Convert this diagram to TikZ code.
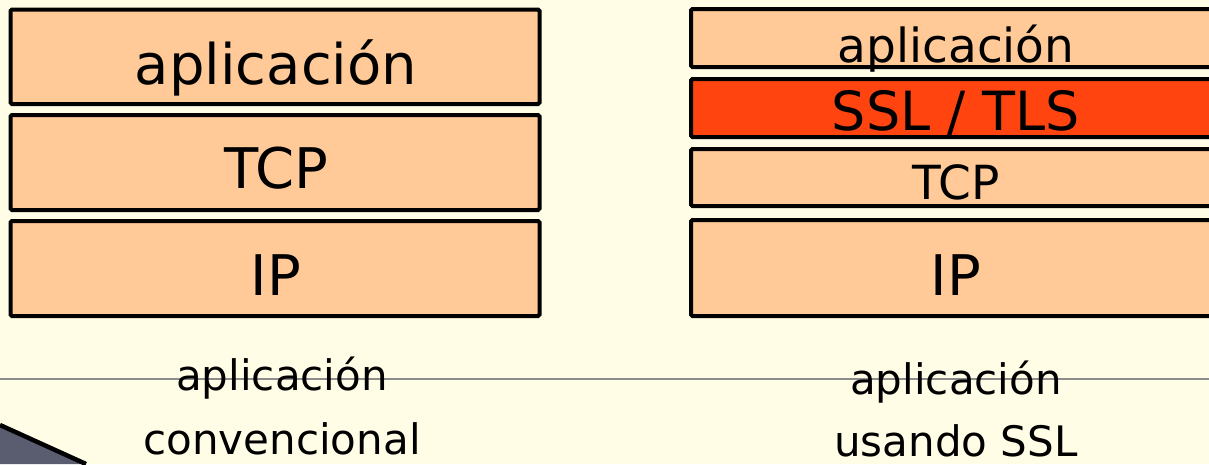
\documentclass[tikz,border=0pt]{standalone}
\usepackage{fontspec}
\setmainfont{DejaVu Sans}
\definecolor{paper}{HTML}{FFFDE6}
\definecolor{peach}{HTML}{FFCA98}
\definecolor{sslred}{HTML}{FF4410}
\definecolor{rule}{HTML}{8C8C8C}
\definecolor{slate}{HTML}{5A5D70}
\tikzset{
  layer/.style={draw=black, line width=4pt, fill=peach, rounded corners=1.5pt,
                inner sep=0pt, rectangle},
  secure/.style={layer, fill=sslred},
  big/.style={anchor=base, inner sep=0pt, font=\fontsize{56}{60}\selectfont},
  mid/.style={anchor=base, inner sep=0pt, font=\fontsize{47}{52}\selectfont},
  caption/.style={anchor=base, inner sep=0pt, font=\fontsize{42}{46}\selectfont},
}
\begin{document}
\begin{tikzpicture}[x=1pt,y=-1pt]
  \fill[paper] (0,0) rectangle (1209,464);
  \useasboundingbox (0,0) rectangle (1209,464);
  \clip (0,0) rectangle (1209,464);

  % divider running behind the captions
  \draw[rule, line width=1.3pt] (0,379) -- (1209,379);

  % corner ornament
  \fill[slate] (0,425) -- (86,464) -- (0,464) -- cycle;
  \draw[line width=4.5pt] (0,425) -- (86,464);

  % conventional stack
  \node[layer, minimum width=529pt, minimum height=94.5pt] (lapp) at (275,56.75) {};
  \node[layer, minimum width=529pt, minimum height=95pt]   (ltcp) at (275,162.5) {};
  \node[layer, minimum width=529pt, minimum height=95pt]   (lip)  at (275,268.5) {};
  \node[big] (lappt) at (276,84)  {aplicación};
  \node[big] (ltcpt) at (276,188) {TCP};
  \node[big] (lipt)  at (276,295) {IP};

  % stack with SSL/TLS
  \node[layer,  minimum width=534pt, minimum height=58pt] (rapp) at (958,38)   {};
  \node[secure, minimum width=534pt, minimum height=58pt] (rssl) at (958,108)  {};
  \node[layer,  minimum width=534pt, minimum height=57pt] (rtcp) at (958,177.5) {};
  \node[layer,  minimum width=534pt, minimum height=96pt] (rip)  at (958,268)  {};
  \node[mid] (rappt) at (956,62)  {aplicación};
  \node[mid, font=\fontsize{54}{56}\selectfont] (rsslt) at (956,130) {SSL / TLS};
  \node[mid] (rtcpt) at (956,199) {TCP};
  \node[big] (ript)  at (956,295) {IP};

  % captions
  \node[caption] (lcap1) at (282,390) {aplicación};
  \node[caption] (lcap2) at (282,454) {convencional};
  \node[caption] (rcap1) at (956,394) {aplicación};
  \node[caption] (rcap2) at (956,456) {usando SSL};
\end{tikzpicture}
\end{document}
